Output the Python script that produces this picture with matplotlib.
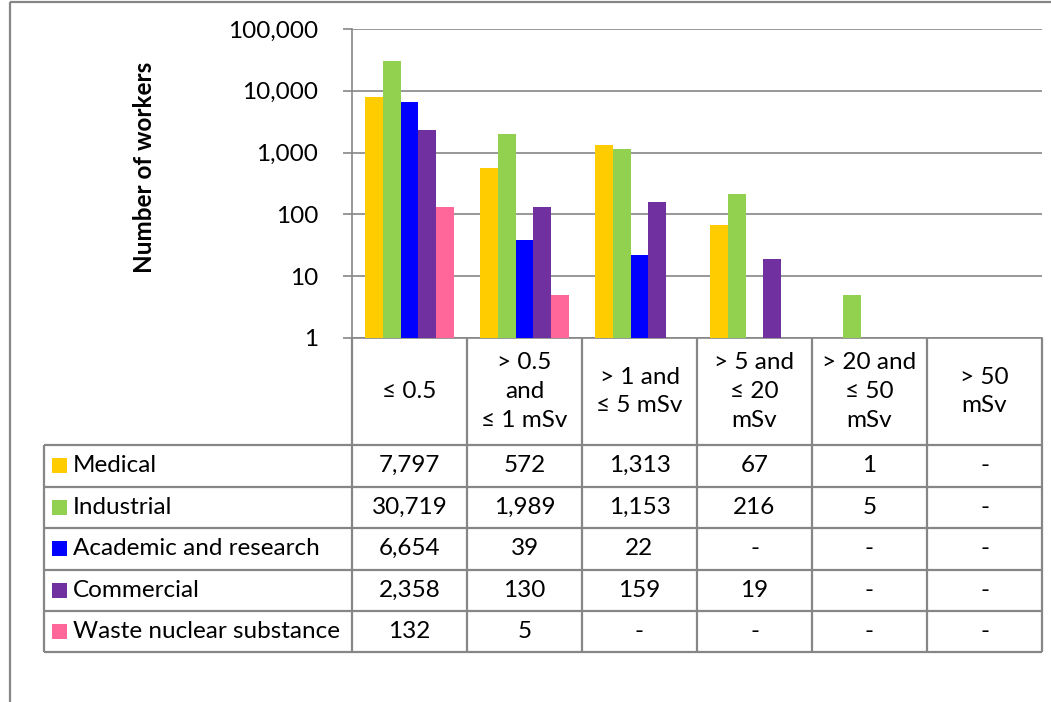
import numpy as np
import matplotlib
matplotlib.use("Agg")
import matplotlib.pyplot as plt
from matplotlib.ticker import FixedLocator, FuncFormatter, NullLocator

plt.rcParams['font.family'] = ['Lato', 'DejaVu Sans']

# Dose bands (column headers of the data table)
categories = ["\u2264 0.5", "> 0.5\nand\n\u2264 1 mSv", "> 1 and\n\u2264 5 mSv",
              "> 5 and\n\u2264 20\nmSv", "> 20 and\n\u2264 50\nmSv", "> 50\nmSv"]

# Number of workers per sector and dose band (None = no workers reported)
medical = [7797, 572, 1313, 67, 1, None]
industrial = [30719, 1989, 1153, 216, 5, None]
academic = [6654, 39, 22, None, None, None]
commercial = [2358, 130, 159, 19, None, None]
waste = [132, 5, None, None, None, None]

series_names = ["Medical", "Industrial", "Academic and research",
                "Commercial", "Waste nuclear substance"]
series_values = [medical, industrial, academic, commercial, waste]
series_colors = ["#FFCC00", "#92D050", "#0000FF", "#7030A0", "#FF6699"]

y_ticks = [1, 10, 100, 1000, 10000, 100000]

W, H = 1051, 702
fig = plt.figure(figsize=(W / 100, H / 100), dpi=100)
GRAY = "#868686"
FS = 17.5

# Plot area in pixel coordinates (from top-left)
px_left, px_right, px_top, px_bottom = 352, 1042, 29, 338
ax = fig.add_axes([px_left / W, 1 - px_bottom / H,
                   (px_right - px_left) / W, (px_bottom - px_top) / H])

n_cat = len(categories)
n_ser = len(series_values)
x = np.arange(n_cat)
bar_w = 1 / 6.5
for i, (vals, col) in enumerate(zip(series_values, series_colors)):
    v = np.array([np.nan if a is None else a for a in vals], dtype=float)
    ax.bar(x + (i - (n_ser - 1) / 2) * bar_w, v, width=bar_w, color=col,
           edgecolor="none", zorder=3)

ax.set_yscale("log")
ax.set_ylim(1, 100000)
ax.set_xlim(-0.5, n_cat - 0.5)
ax.yaxis.set_major_locator(FixedLocator(y_ticks))
ax.yaxis.set_minor_locator(NullLocator())
ax.yaxis.set_major_formatter(FuncFormatter(lambda v, p: f"{v:,.0f}"))
ax.tick_params(axis="y", length=6.5, width=1.2, color=GRAY, pad=18,
               labelsize=FS, labelcolor="black")
ax.tick_params(axis="x", length=0, labelbottom=False)
ax.grid(axis="y", color=GRAY, linewidth=1.2, zorder=0)
for s in ["top", "right"]:
    ax.spines[s].set_visible(False)
for s in ["left", "bottom"]:
    ax.spines[s].set_color(GRAY)
    ax.spines[s].set_linewidth(1.2)

# Overlay in pixel coordinates for the data table and the frame
ov = fig.add_axes([0, 0, 1, 1])
ov.set_xlim(0, W)
ov.set_ylim(H, 0)
ov.axis("off")
ov.patch.set_visible(False)


def to_px(xd):
    disp = ax.transData.transform((xd, 1))
    return ov.transData.inverted().transform(disp)[0]


col_edges = [to_px(e - 0.5) for e in range(n_cat + 1)]
tab_left = 44
row_edges = [445, 486.5, 528, 569.5, 611, 652]
lk = dict(color=GRAY, linewidth=1.6, solid_capstyle="butt")

# Frame of the chart area
ov.plot([10, 10], [2, H], **lk)
ov.plot([10, W], [2, 2], **lk)

# Table grid
for xe in col_edges:
    ov.plot([xe, xe], [px_bottom, row_edges[-1]], **lk)
ov.plot([tab_left, tab_left], [row_edges[0], row_edges[-1]], **lk)
for ye in row_edges:
    ov.plot([tab_left, col_edges[-1]], [ye, ye], **lk)

# Column headers
hdr_mid = (px_bottom + row_edges[0]) / 2
for j, lab in enumerate(categories):
    cx = (col_edges[j] + col_edges[j + 1]) / 2
    ov.text(cx, hdr_mid, lab, ha="center", va="center", fontsize=FS,
            linespacing=1.45)


def fmt(v):
    return "-" if v is None else f"{v:,}"


# Rows: legend key, series name and values
for i, (name, vals, col) in enumerate(zip(series_names, series_values,
                                          series_colors)):
    cy = (row_edges[i] + row_edges[i + 1]) / 2
    ov.add_patch(plt.Rectangle((52, cy - 7.5), 15, 15, color=col,
                               linewidth=0))
    ov.text(73, cy, name, ha="left", va="center", fontsize=FS)
    for j, v in enumerate(vals):
        cx = (col_edges[j] + col_edges[j + 1]) / 2
        ov.text(cx, cy, fmt(v), ha="center", va="center", fontsize=FS)

# Axis title
ov.text(145, 167, "Number of workers", rotation=90, ha="center",
        va="center", fontsize=FS, fontweight="bold")

fig.savefig("out.png", dpi=100)
